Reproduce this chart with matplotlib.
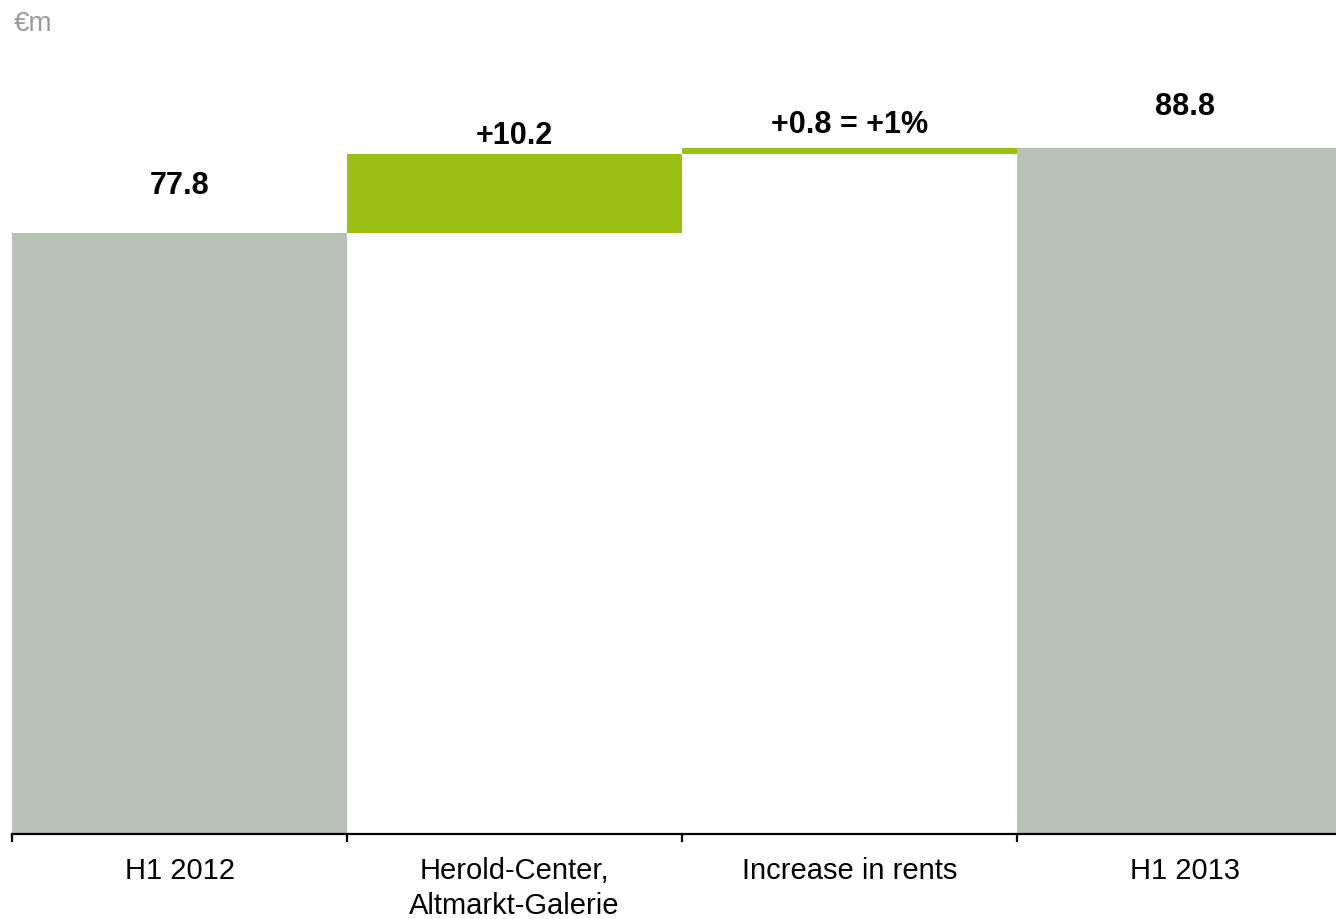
#!/usr/bin/env python3
import numpy as np
import matplotlib
matplotlib.use("Agg")
import matplotlib.pyplot as plt


categories = ["H1 2012", "Herold-Center,\nAltmarkt-Galerie", "Increase in rents", "H1 2013"]
start_value = 77.8
deltas = [10.2, 0.8]
end_value = 88.8
value_labels = ["77.8", "+10.2", "+0.8 = +1%", "88.8"]

GREY = "#b8c1b5"
GREEN = "#98bf12"

plt.rcParams["font.family"] = ["Liberation Sans", "DejaVu Sans"]


def main():
    heights = [start_value] + deltas + [end_value]
    bottoms = [0.0, start_value, start_value + deltas[0], 0.0]
    colors = [GREY, GREEN, GREEN, GREY]
    x = np.arange(len(categories))

    fig = plt.figure(figsize=(13.36, 9.2), dpi=100)
    # axes runs from x=12px to the right edge, baseline at y=835px
    ax = fig.add_axes([12 / 1336, 1 - 835 / 920, 1 - 12 / 1336, 835 / 920])

    ax.bar(x, heights, bottom=bottoms, width=1.0, color=colors, linewidth=0, zorder=2)

    ax.set_xlim(-0.5, -0.5 + 1324 / 335)
    ax.set_ylim(0, 835 / 7.725)

    # value labels, offset from bar tops (pts)
    offsets = [29, 8, 11.5, 24.5]
    tops = [b + h for b, h in zip(bottoms, heights)]
    for xi, top, lab, off in zip(x, tops, value_labels, offsets):
        ax.annotate(lab, (xi, top), xytext=(0, off), textcoords="offset points",
                    ha="center", va="baseline", fontsize=22, fontweight="bold",
                    color="black")

    for side in ["top", "right", "left"]:
        ax.spines[side].set_visible(False)
    ax.spines["bottom"].set_linewidth(1.6)
    ax.spines["bottom"].set_zorder(3)
    ax.set_yticks([])

    # ticks sit on the bar boundaries, labels in the middle of each bar
    ax.set_xticks(x - 0.5)
    ax.tick_params(axis="x", which="major", length=6, width=1.6, direction="out",
                   labelbottom=False)
    ax.set_xticks(x, minor=True)
    ax.set_xticklabels(categories, minor=True, fontsize=21, linespacing=1.3)
    ax.tick_params(axis="x", which="minor", length=0, pad=16)

    fig.text(14 / 1336, 1 - 24 / 920, "€m", fontsize=20, color="#9a9a9a",
             ha="left", va="center")

    fig.savefig("out.png", dpi=100)
    plt.close(fig)


if __name__ == "__main__":
    main()
